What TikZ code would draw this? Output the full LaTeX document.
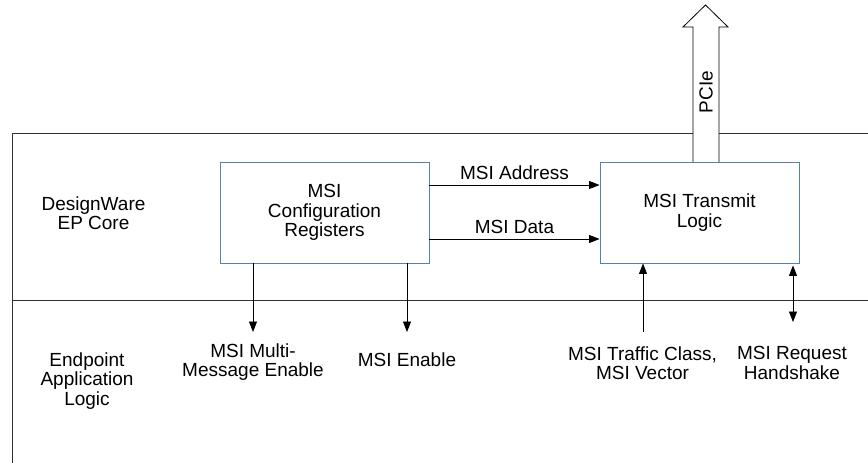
\documentclass[tikz,border=0pt]{standalone}
\usepackage{fontspec}
\setmainfont{Liberation Sans}
\usetikzlibrary{arrows.meta}
\definecolor{boxblue}{RGB}{84,130,176}
\definecolor{frame}{RGB}{50,50,50}
\begin{document}
\begin{tikzpicture}[x=1pt,y=-1pt,
  every node/.style={font=\fontsize{19}{19.5}\selectfont, inner sep=0pt, align=center},
  blockbox/.style={draw=boxblue, line width=0.9pt, fill=white, inner sep=0pt},
  frameline/.style={draw=frame, line width=0.8pt},
  sig/.style={draw=black, line width=0.8pt, -{Triangle[length=10.5pt,width=8pt]}},
  sigboth/.style={draw=black, line width=0.8pt, {Triangle[length=10.5pt,width=8pt]}-{Triangle[length=10.5pt,width=8pt]}},
  pciearrow/.style={draw=black, line width=0.8pt, fill=white}
]
\useasboundingbox (0,0) rectangle (868,463);
% frame
\coordinate (ftl) at (12,133);
\coordinate (ftr) at (868,133);
\coordinate (fbl) at (12,463);
\coordinate (fml) at (12,300);
\coordinate (fmr) at (868,300);
\draw[frameline] (ftr) -- (ftl) -- (fbl);
\draw[frameline] (fml) -- (fmr);

% PCIe block arrow
\draw[pciearrow] (693,162) -- (693,27) -- (683,27) -- (705.5,5) -- (728,27) -- (719,27) -- (719,162);
\node[rotate=90] (pcie) at (706,92) {PCIe};

% boxes
\node[blockbox, minimum width=209pt, minimum height=101pt] (cfg) at (324.5,212.5) {MSI\\Configuration\\Registers};
\node[blockbox, minimum width=199pt, minimum height=101pt] (tx) at (699.5,212.5) {MSI Transmit\\Logic};

% region labels
\node (core) at (93.5,213) {DesignWare\\EP Core};
\node (app) at (87,381) {Endpoint\\Application\\Logic};

% horizontal signals
\draw[sig] ([yshift=27.5pt]cfg.east) -- node[above=4.5pt] (addr) {MSI Address} ([yshift=27.5pt]tx.west);
\draw[sig] ([yshift=-26.5pt]cfg.east) -- node[above=4.5pt] (data) {MSI Data} ([yshift=-26.5pt]tx.west);

% down arrows
\coordinate (mmeend) at (253,332);
\coordinate (enend) at (407,332);
\draw[sig] (cfg.south -| mmeend) -- (mmeend);
\draw[sig] (cfg.south -| enend) -- (enend);
\node (mme) at (253,362) {MSI Multi-\\Message Enable};
\node (en) at (407,360) {MSI Enable};

% up arrows
\coordinate (tcstart) at (643,332);
\coordinate (rqend) at (793,322);
\draw[sig] (tcstart) -- (tx.south -| tcstart);
\draw[sigboth] ([yshift=-2pt]tx.south -| rqend) -- (rqend);
\node (tc) at (642.5,363) {MSI Traffic Class,\\MSI Vector};
\node (rq) at (792,363) {MSI Request\\Handshake};
\end{tikzpicture}
\end{document}
